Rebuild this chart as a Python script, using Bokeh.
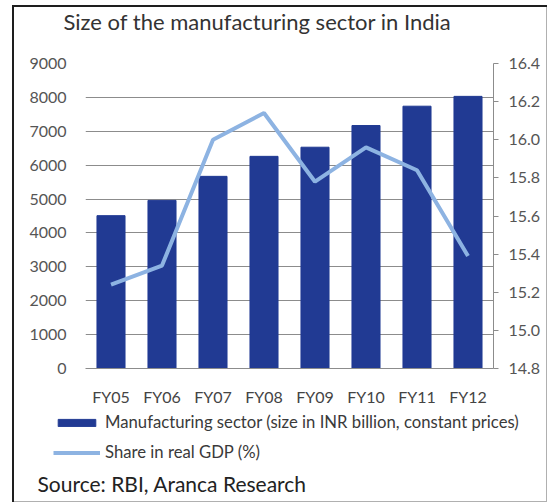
from bokeh.plotting import figure
from bokeh.layouts import column, row
from bokeh.models import (FactorRange, Range1d, LinearAxis, FixedTicker,
                          Legend, LegendItem, NumeralTickFormatter, Label)
from bokeh.embed import file_html
from bokeh.resources import INLINE

years = ["FY05", "FY06", "FY07", "FY08", "FY09", "FY10", "FY11", "FY12"]
size_inr_bn = [4510, 4960, 5670, 6260, 6530, 7170, 7740, 8030]
share_gdp = [15.24, 15.34, 16.00, 16.14, 15.78, 15.96, 15.84, 15.39]
left_ticks = [0, 1000, 2000, 3000, 4000, 5000, 6000, 7000, 8000, 9000]
right_ticks = [14.8, 15.0, 15.2, 15.4, 15.6, 15.8, 16.0, 16.2, 16.4]

FONT = "Lato"
BAR = "#213A93"
LINE = "#8DB3E2"


def blank(h):
    f = figure(width=547, height=h, x_range=Range1d(0, 1), y_range=Range1d(0, 1),
               output_backend="svg", toolbar_location=None,
               x_axis_location=None, y_axis_location=None,
               min_border_left=0, min_border_right=0, min_border_top=0,
               min_border_bottom=0)
    f.grid.visible = False
    f.outline_line_color = None
    f.border_fill_color = None
    f.background_fill_color = None
    return f


# title strip
t = blank(40)
t.add_layout(Label(x=63, y=19, x_units="screen", y_units="screen",
                   text="Size of the manufacturing sector in India", text_font=FONT,
                   text_font_size="22px", text_color="#333333",
                   text_baseline="middle"))

# main chart
p = figure(width=547, height=370, x_range=FactorRange(*years, range_padding=0),
           y_range=Range1d(0, 9000), output_backend="svg", toolbar_location=None,
           min_border_left=85, min_border_right=54, min_border_top=23,
           min_border_bottom=42)
p.outline_line_color = None
p.border_fill_color = None
p.extra_y_ranges = {"share": Range1d(14.8, 16.4)}

bars = p.vbar(x=years, top=size_inr_bn, width=0.55, color=BAR)
line = p.line(x=years, y=share_gdp, y_range_name="share", line_color=LINE,
              line_width=4)

p.xgrid.visible = False
p.ygrid.ticker = FixedTicker(ticks=left_ticks)
p.ygrid.grid_line_color = "#8c8c8c"
p.ygrid.grid_line_width = 1

ya = p.yaxis[0]
ya.ticker = FixedTicker(ticks=left_ticks)
ya.axis_line_color = None
ya.major_tick_line_color = None
ya.minor_tick_line_color = None
ya.major_label_standoff = 13
ya.major_label_text_font = FONT
ya.major_label_text_font_size = "16px"
ya.major_label_text_color = "#555555"

ra = LinearAxis(y_range_name="share", ticker=FixedTicker(ticks=right_ticks),
                formatter=NumeralTickFormatter(format="0.0"))
ra.axis_line_color = "#8c8c8c"
ra.major_tick_line_color = "#8c8c8c"
ra.major_tick_in = 0
ra.major_tick_out = 5
ra.minor_tick_line_color = None
ra.major_label_standoff = 10
ra.major_label_text_font = FONT
ra.major_label_text_font_size = "16px"
ra.major_label_text_color = "#555555"
p.add_layout(ra, "right")

xa = p.xaxis[0]
xa.axis_line_color = "#8c8c8c"
xa.major_tick_line_color = None
xa.minor_tick_line_color = None
xa.major_label_standoff = 12
xa.major_label_text_font = FONT
xa.major_label_text_font_size = "16px"
xa.major_label_text_color = "#444444"

# legend + source strip
q = blank(92)
kb = q.vbar(x=[5], top=[5], width=0.5, color=BAR)
kl = q.line(x=[5, 6], y=[5, 5], line_color=LINE, line_width=4)

legend = Legend(items=[
    LegendItem(label="Manufacturing sector (size in INR billion, constant prices)",
               renderers=[kb]),
    LegendItem(label="Share in real GDP (%)", renderers=[kl]),
], location=(53, 40), orientation="vertical")
legend.glyph_width = 47
legend.glyph_height = 9
legend.label_height = 20
legend.spacing = 10
legend.padding = 0
legend.margin = 0
legend.label_standoff = 5
legend.border_line_color = None
legend.background_fill_alpha = 0
legend.label_text_font = FONT
legend.label_text_font_size = "16.7px"
legend.label_text_color = "#3a3a3a"
q.add_layout(legend, "center")

q.add_layout(Label(x=37, y=19, x_units="screen", y_units="screen",
                   text="Source: RBI, Aranca Research", text_font=FONT,
                   text_font_size="21px", text_color="#222222",
                   text_baseline="middle"))

layout = column(row(t), p, row(q), spacing=0)
layout.styles = {"box-shadow": "inset 12px 5px 0 0 #ffffff, inset 14px 7px 0 0 #1e1e1e, "
                               "inset -1px -1px 0 0 #b0b0b0"}

open("out.html", "w").write(file_html(layout, INLINE))
